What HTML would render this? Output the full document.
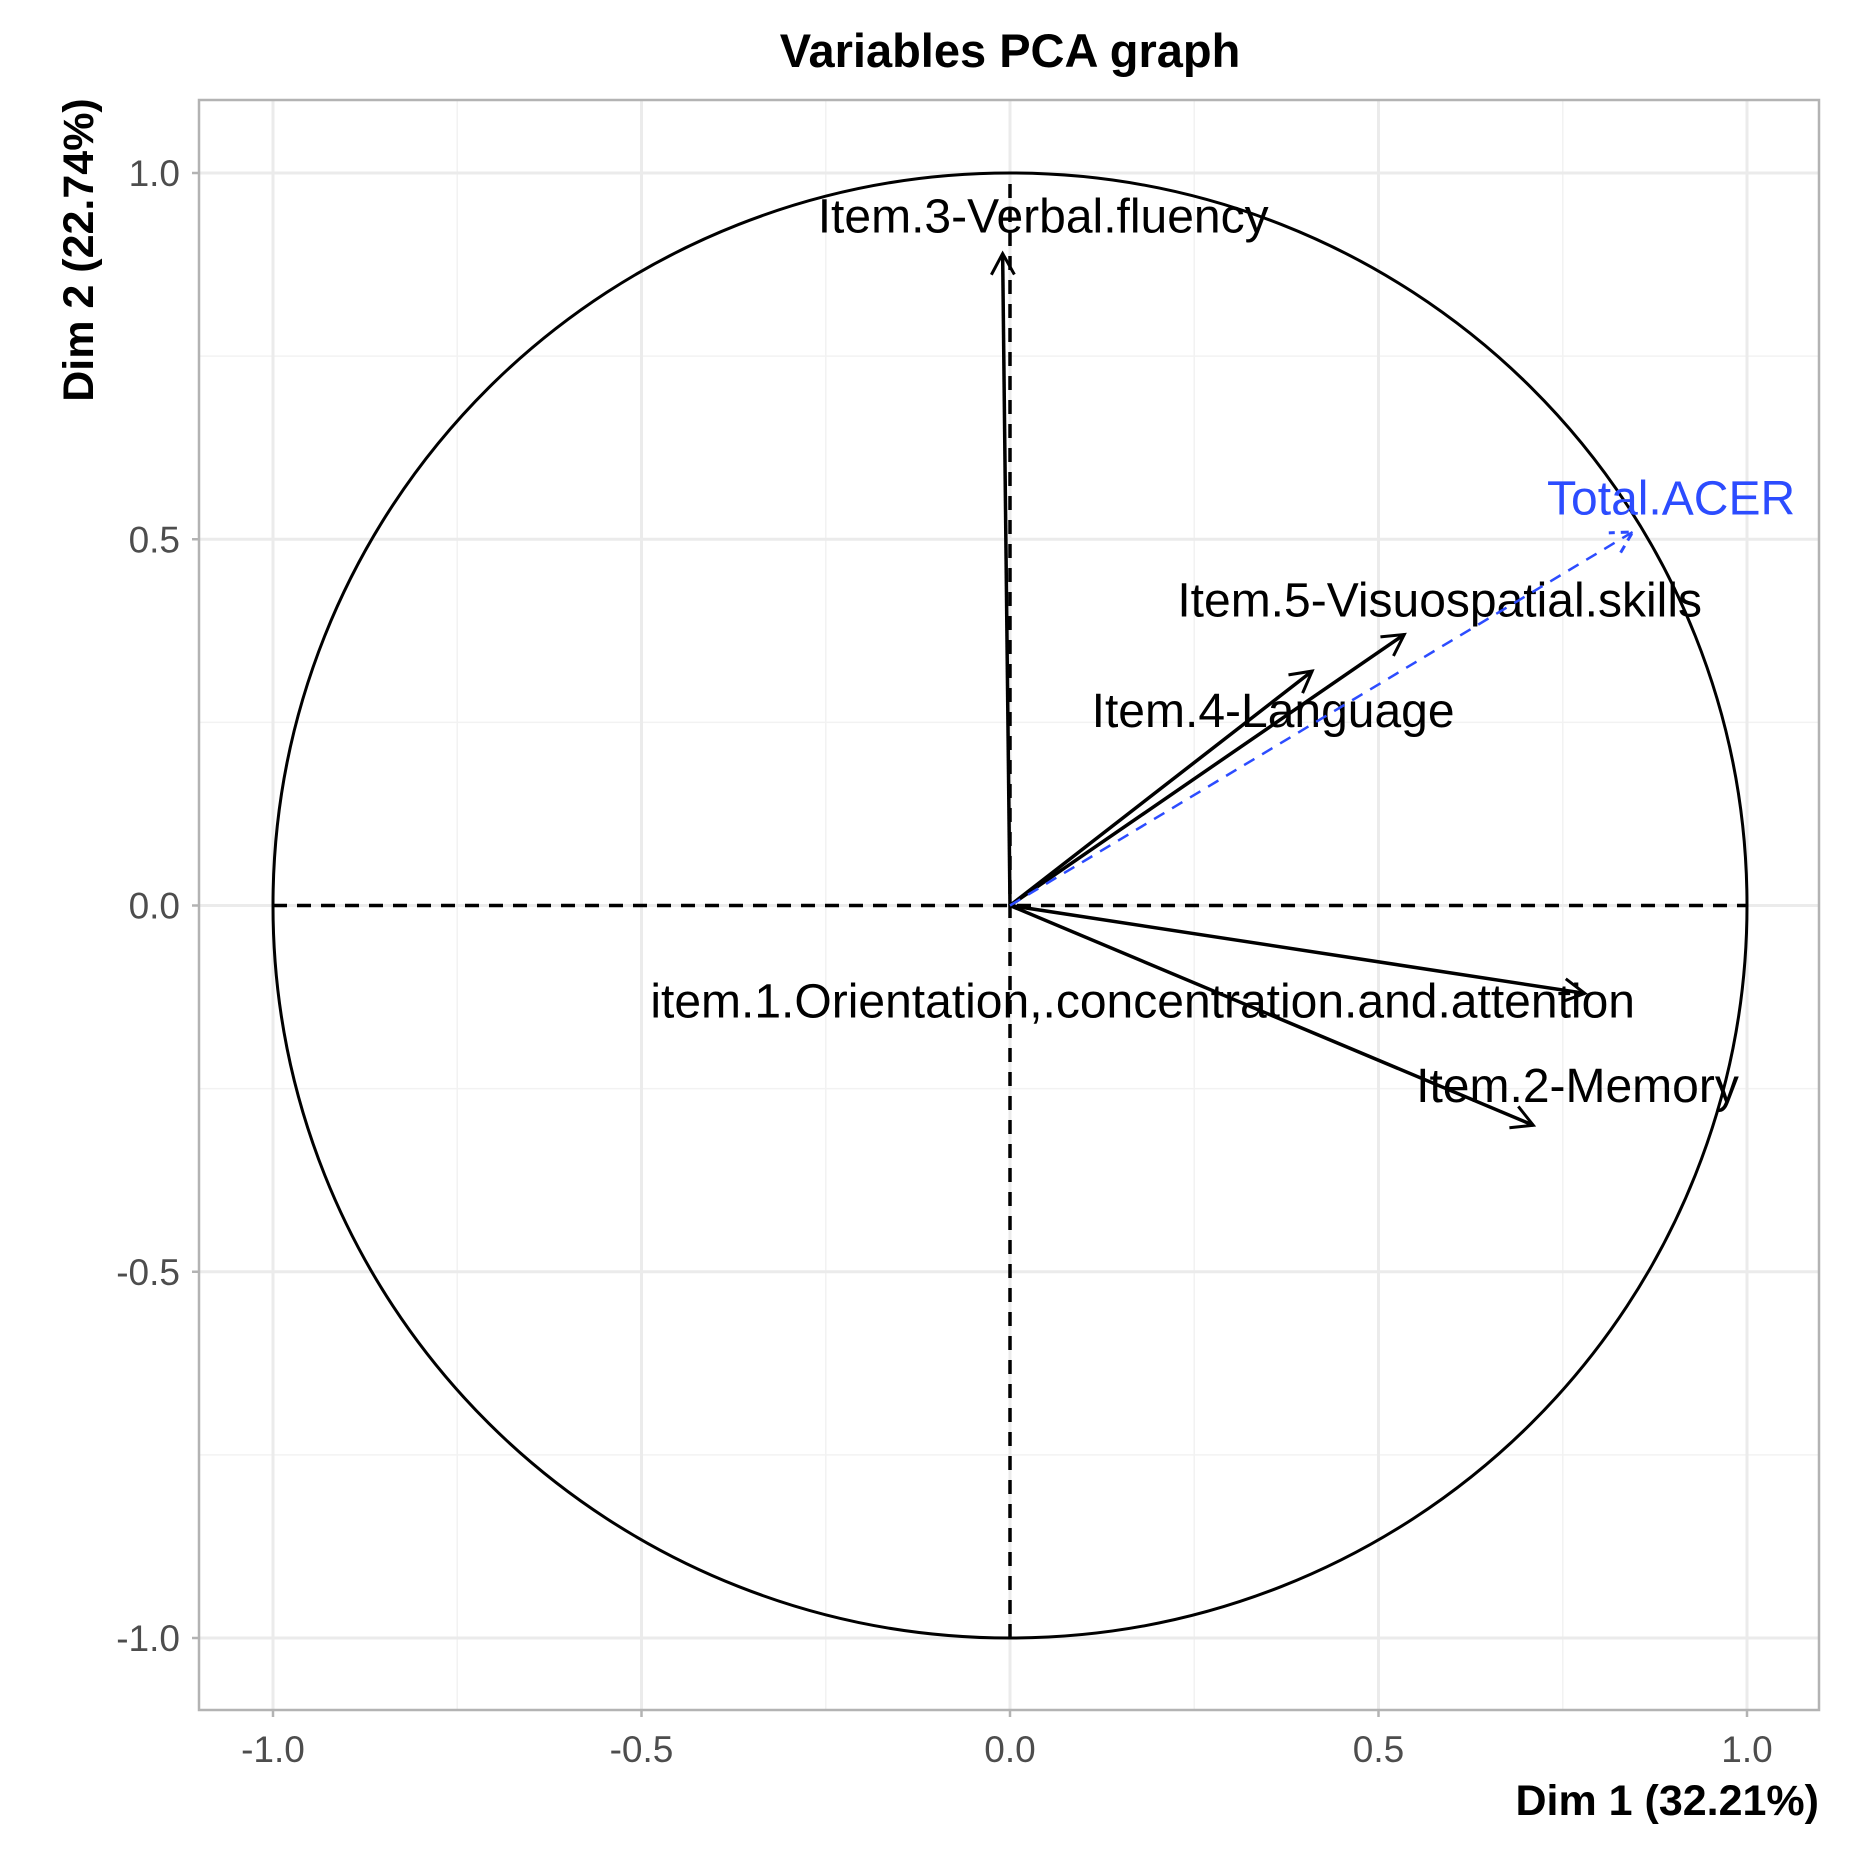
<!DOCTYPE html>
<html><head><meta charset="utf-8"><style>
html,body{margin:0;padding:0;background:#fff;}
svg{display:block;font-family:"Liberation Sans",Arial,sans-serif;}
</style></head><body>
<svg id="chart" width="1849" height="1871" viewBox="0 0 1849 1871" xmlns="http://www.w3.org/2000/svg">
<text x="1010" y="67" text-anchor="middle" font-size="47" font-weight="bold" fill="#000">Variables PCA graph</text>
<g id="grid"></g>
<g id="plot"></g>
<rect x="199" y="100" width="1620" height="1610" fill="none" stroke="#b3b3b3" stroke-width="2.5"/>
<g id="ticks"></g>
<text x="1819" y="1815" text-anchor="end" font-size="43" font-weight="bold">Dim 1 (32.21%)</text>
<text transform="translate(93,250) rotate(-90)" text-anchor="middle" font-size="43" font-weight="bold">Dim 2 (22.74%)</text>
</svg>
<script>
const varNames = ["item.1.Orientation,.concentration.and.attention","Item.2-Memory","Item.3-Verbal.fluency","Item.4-Language","Item.5-Visuospatial.skills","Total.ACER"];
const dim1 = [0.78, 0.71, -0.01, 0.41, 0.535, 0.845];
const dim2 = [-0.12, -0.30, 0.89, 0.32, 0.37, 0.51];
const supplementary = [false,false,false,false,false,true];
const labelDx = [-0.60, 0.06, 0.055, -0.053, 0.048, 0.052];
const labelDy = [-0.01, 0.055, 0.052, -0.053, 0.048, 0.047];
const tickValues = [-1.0,-0.5,0.0,0.5,1.0];
const tickLabels = ["-1.0","-0.5","0.0","0.5","1.0"];
const minorValues = [-0.75,-0.25,0.25,0.75];

const NS="http://www.w3.org/2000/svg";
const X0=1010, XU=737, Y0=905.5, YU=732.5;
function sx(v){return X0+v*XU;}
function sy(v){return Y0-v*YU;}
function mk(tag,attrs,parent){const e=document.createElementNS(NS,tag);for(const k in attrs)e.setAttribute(k,attrs[k]);parent.appendChild(e);return e;}
const grid=document.getElementById('grid'),plot=document.getElementById('plot'),ticks=document.getElementById('ticks');
minorValues.forEach(v=>{
  let a=mk('line',{x1:sx(v),x2:sx(v),y1:100,y2:1710,stroke:'#f2f2f2','stroke-width':1.5},grid);
  
  
  let b=mk('line',{x1:199,x2:1819,y1:sy(v),y2:sy(v),stroke:'#f2f2f2','stroke-width':1.5},grid);
  
  
});
tickValues.forEach((v,i)=>{
  let a=mk('line',{x1:sx(v),x2:sx(v),y1:100,y2:1710,stroke:'#ebebeb','stroke-width':3},grid);
  
  
  let b=mk('line',{x1:199,x2:1819,y1:sy(v),y2:sy(v),stroke:'#ebebeb','stroke-width':3},grid);
  
  
  let t=mk('text',{x:sx(v),y:1762,'text-anchor':'middle','font-size':37,fill:'#4d4d4d'},ticks);
  t.textContent=tickLabels[i];
  
  
  let u=mk('text',{x:180,y:sy(v)+13,'text-anchor':'end','font-size':37,fill:'#4d4d4d'},ticks);
  u.textContent=tickLabels[i];
  
  
  let tm=mk('line',{x1:sx(v),x2:sx(v),y1:1710,y2:1717,stroke:'#b3b3b3','stroke-width':2.5},ticks);
  
  
  let tn=mk('line',{x1:192,x2:199,y1:sy(v),y2:sy(v),stroke:'#b3b3b3','stroke-width':2.5},ticks);
  
  
});
let circ=mk('ellipse',{cx:sx(0),cy:sy(0),rx:XU,ry:YU,fill:'none',stroke:'#000','stroke-width':3},plot);


let hl=mk('line',{x1:sx(-1),x2:sx(1),y1:sy(0),y2:sy(0),stroke:'#000','stroke-width':3.5,'stroke-dasharray':'14 10'},plot);


let vl=mk('line',{x1:sx(0),x2:sx(0),y1:sy(-1),y2:sy(1),stroke:'#000','stroke-width':3.5,'stroke-dasharray':'14 10'},plot);


varNames.forEach((n,i)=>{
  const col=supplementary[i]?'#2c4cff':'#000';
  const x1=sx(0),y1=sy(0),x2=sx(dim1[i]),y2=sy(dim2[i]);
  const g=mk('g',{},plot);
  
  
  const la={x1:x1,y1:y1,x2:x2,y2:y2,stroke:col,'stroke-width':supplementary[i]?2.5:3.5};
  if(supplementary[i]) la['stroke-dasharray']='12 9';
  mk('line',la,g);
  const ang=Math.atan2(y2-y1,x2-x1),L=24,sp=0.5;
  const p=`M${x2-L*Math.cos(ang-sp)},${y2-L*Math.sin(ang-sp)} L${x2},${y2} L${x2-L*Math.cos(ang+sp)},${y2-L*Math.sin(ang+sp)}`;
  const hd={d:p,fill:'none',stroke:col,'stroke-width':3};
  if(supplementary[i]) hd['stroke-dasharray']='8 6';
  mk('path',hd,g);
  const t=mk('text',{x:sx(dim1[i]+labelDx[i]),y:sy(dim2[i]+labelDy[i])+17,'text-anchor':'middle','font-size':48,fill:col},plot);
  t.textContent=n;
  
  
});
</script>
</body></html>
